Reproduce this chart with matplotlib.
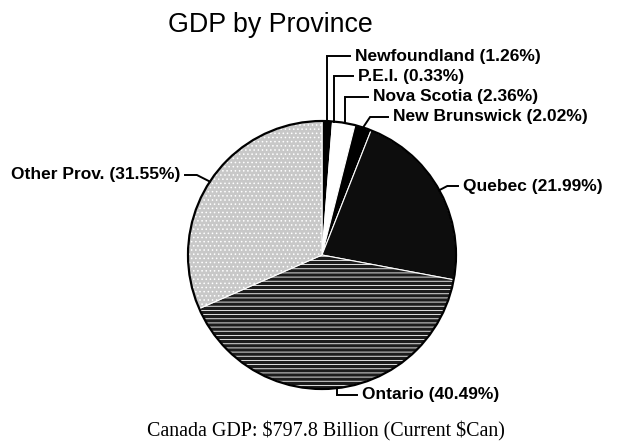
import numpy as np
import matplotlib.pyplot as plt

provinces = ["Newfoundland", "P.E.I.", "Nova Scotia", "New Brunswick",
             "Quebec", "Ontario", "Other Prov."]
shares = [1.26, 0.33, 2.36, 2.02, 21.99, 40.49, 31.55]

fills = ["black", "white", "white", "black", "#0d0d0d", "#1c1c1c", "#c8c8c8"]
hatches = [None, None, None, None, None, "----", "...."]

plt.rcParams['hatch.linewidth'] = 0.6

fig = plt.figure(figsize=(6.29, 4.48), dpi=100)
ax = fig.add_axes([0, 0, 1, 1])
ax.set_xlim(0, 629)
ax.set_ylim(448, 0)
ax.axis("off")

cx, cy, r = 322, 255, 134
start = 90

# pie drawn clockwise from 12 o'clock (y axis points down, so flip sign)
wedges, _ = ax.pie(shares, center=(cx, cy), radius=r, startangle=-start,
                   counterclock=True, colors=fills,
                   wedgeprops=dict(edgecolor="white", linewidth=0.8))
for w, h in zip(wedges, hatches):
    if h:
        w.set_hatch(h)
ax.add_patch(plt.Circle((cx, cy), r, fill=False, edgecolor="black", linewidth=1.6))
ax.set_xlim(0, 629)
ax.set_ylim(448, 0)

# label layout: text x, text y, horizontal alignment, elbow x offset
layout = {
    "Newfoundland":  (355, 56, "left", 0),
    "P.E.I.":        (358, 76, "left", 0),
    "Nova Scotia":   (373, 97, "left", 0),
    "New Brunswick": (393, 117, "left", 7),
    "Quebec":        (463, 186, "left", 8),
    "Ontario":       (362, 395, "left", 0),
    "Other Prov.":   (180, 175, "right", -13),
}

cum = np.cumsum([0] + shares)
for i, name in enumerate(provinces):
    mid = np.deg2rad(start - (cum[i] + shares[i] / 2) / 100 * 360)
    axx = cx + r * np.cos(mid)
    axy = cy - r * np.sin(mid)
    tx, ty, ha, ex = layout[name]
    gap = 5 if ha == "left" else -5
    ax.plot([axx, axx + ex, tx - gap], [axy, ty, ty], color="black",
            linewidth=1.4, solid_joinstyle="miter")
    ax.text(tx, ty, f"{name} ({shares[i]:.2f}%)", ha=ha, va="center",
            fontsize=12.5, fontweight="bold", family="Liberation Sans")

ax.text(270, 25, "GDP by Province", ha="center", va="center",
        fontsize=19.3, family="Liberation Sans")
ax.text(326, 431, "Canada GDP: $797.8 Billion (Current $Can)", ha="center",
        va="center", fontsize=14.4, family="Liberation Serif", parse_math=False)

fig.savefig("out.png", dpi=100)
